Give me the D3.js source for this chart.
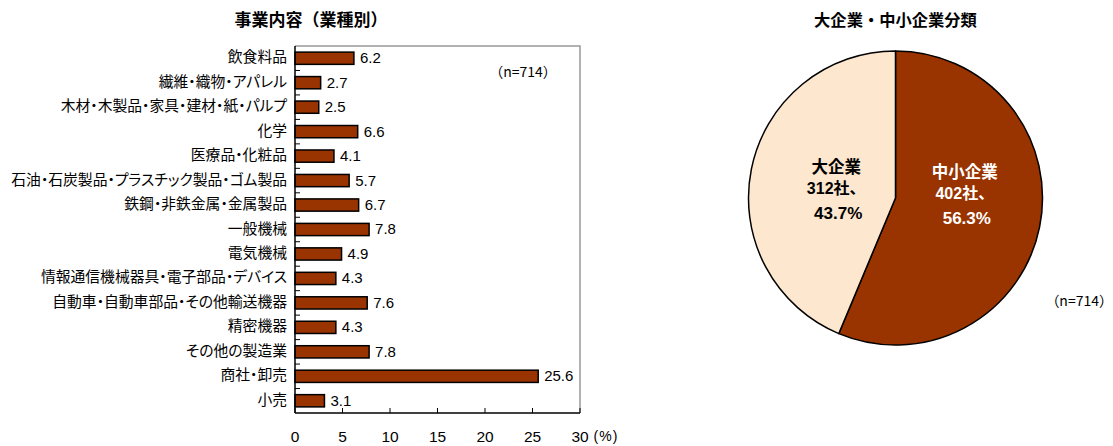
<!DOCTYPE html>
<html>
<head>
<meta charset="utf-8">
<script src="https://cdn.jsdelivr.net/npm/d3@7"></script>
<style>
  html, body { margin: 0; padding: 0; background: #fff; }
  svg { display: block; }
  text { font-family: "Liberation Sans", Arial, "Noto Sans CJK JP", sans-serif; fill: #000; }
  .jp { font-family: "Noto Sans CJK JP", sans-serif; font-feature-settings: "palt"; }
  .jpw { font-family: "Noto Sans CJK JP", sans-serif; }
</style>
</head>
<body>
<svg id="chart" width="1113" height="446"></svg>
<script>
// 業種別の構成比 (%)
const industries = [
  "飲食料品",
  "繊維・織物・アパレル",
  "木材・木製品・家具・建材・紙・パルプ",
  "化学",
  "医療品・化粧品",
  "石油・石炭製品・プラスチック製品・ゴム製品",
  "鉄鋼・非鉄金属・金属製品",
  "一般機械",
  "電気機械",
  "情報通信機械器具・電子部品・デバイス",
  "自動車・自動車部品・その他輸送機器",
  "精密機器",
  "その他の製造業",
  "商社・卸売",
  "小売"
];
const sharePct = [6.2, 2.7, 2.5, 6.6, 4.1, 5.7, 6.7, 7.8, 4.9, 4.3, 7.6, 4.3, 7.8, 25.6, 3.1];
const xTicks = [0, 5, 10, 15, 20, 25, 30];

// 企業規模別の社数
const sizeNames = ["中小企業", "大企業"];
const sizeCounts = [402, 312];
const sizePct = ["56.3%", "43.7%"];
const sampleLabel = "（n=714）";

const svg = d3.select("#chart");
const BROWN = "#993300";

// ---- 棒グラフ ----
const plot = { left: 295, right: 580, top: 46, bottom: 413 };
const x = d3.scaleLinear().domain([0, 30]).range([plot.left, plot.right]);
const y = d3.scaleBand().domain(industries).range([plot.top, plot.bottom])
  .paddingInner(0.5).paddingOuter(0.25);

svg.append("text").attr("x", 311).attr("y", 21)
  .attr("text-anchor", "middle").attr("dominant-baseline", "middle")
  .attr("class", "jpw").attr("font-size", 17).attr("font-weight", "bold")
  .text("事業内容（業種別）");

// 枠 (上・右は灰色)
svg.append("path")
  .attr("d", `M${plot.left},${plot.top}H${plot.right}V${plot.bottom}`)
  .attr("fill", "none").attr("stroke", "#999").attr("stroke-width", 1.5);

// バー
svg.append("g").selectAll("rect").data(industries).join("rect")
  .attr("x", x(0))
  .attr("y", d => y(d))
  .attr("width", (d, i) => x(sharePct[i]) - x(0))
  .attr("height", y.bandwidth())
  .attr("fill", BROWN).attr("stroke", "#000").attr("stroke-width", 1.5);

// 値ラベル
svg.append("g").selectAll("text").data(industries).join("text")
  .attr("x", (d, i) => x(sharePct[i]) + 6)
  .attr("y", d => y(d) + y.bandwidth() / 2 + 1)
  .attr("dominant-baseline", "middle")
  .attr("font-size", 15)
  .text((d, i) => sharePct[i].toFixed(1));

// 縦軸 (区切り目盛り)
const step = y.step();
const yAxis = svg.append("g");
yAxis.append("line").attr("x1", plot.left).attr("x2", plot.left)
  .attr("y1", plot.top).attr("y2", plot.bottom).attr("stroke", "#000").attr("stroke-width", 1.5);
yAxis.selectAll("line.tick").data(industries.slice(1)).join("line").attr("class", "tick")
  .attr("x1", plot.left).attr("x2", plot.left + 5)
  .attr("y1", d => y(d) - step * y.paddingInner() / 2)
  .attr("y2", d => y(d) - step * y.paddingInner() / 2)
  .attr("stroke", "#000").attr("stroke-width", 1);
yAxis.selectAll("text").data(industries).join("text")
  .attr("class", "jp")
  .attr("x", plot.left - 8)
  .attr("y", d => y(d) + y.bandwidth() / 2)
  .attr("text-anchor", "end").attr("dominant-baseline", "middle")
  .attr("font-size", 14.8)
  .text(d => d);

// 横軸
const xAxis = svg.append("g");
xAxis.append("line").attr("x1", plot.left).attr("x2", plot.right)
  .attr("y1", plot.bottom).attr("y2", plot.bottom).attr("stroke", "#000").attr("stroke-width", 1.5);
xAxis.selectAll("line.tick").data(xTicks).join("line").attr("class", "tick")
  .attr("x1", d => x(d)).attr("x2", d => x(d))
  .attr("y1", plot.bottom).attr("y2", plot.bottom - 5)
  .attr("stroke", "#000").attr("stroke-width", 1);
xAxis.selectAll("text").data(xTicks).join("text")
  .attr("x", d => x(d)).attr("y", 438)
  .attr("text-anchor", "middle").attr("dominant-baseline", "middle")
  .attr("font-size", 15.5)
  .text(d => d);
svg.append("text").attr("x", 606).attr("y", 437)
  .attr("text-anchor", "middle").attr("dominant-baseline", "middle")
  .attr("font-size", 14).attr("letter-spacing", 1).text("(%)");

svg.append("text").attr("class", "jpw").attr("x", 523).attr("y", 73)
  .attr("text-anchor", "middle").attr("dominant-baseline", "middle")
  .attr("font-size", 14).text(sampleLabel);

// ---- 円グラフ ----
const cx = 895.5, cy = 198, r = 147;

const defs = svg.append("defs");
const pat = defs.append("pattern").attr("id", "dots")
  .attr("width", 2).attr("height", 2).attr("patternUnits", "userSpaceOnUse");
pat.append("rect").attr("width", 2).attr("height", 2).attr("fill", "#fff6ea");
pat.append("rect").attr("width", 1).attr("height", 1).attr("fill", "#fad8b4");
pat.append("rect").attr("x", 1).attr("y", 1).attr("width", 1).attr("height", 1).attr("fill", "#fad8b4");

svg.append("text").attr("x", cx).attr("y", 22)
  .attr("text-anchor", "middle").attr("dominant-baseline", "middle")
  .attr("class", "jpw").attr("font-size", 16.3).attr("font-weight", "bold")
  .text("大企業・中小企業分類");

const pie = d3.pie().sort(null).value(d => d)(sizeCounts);
const arc = d3.arc().innerRadius(0).outerRadius(r);
const labelArc = d3.arc().innerRadius(0).outerRadius(r * 0.92);
const pieG = svg.append("g").attr("transform", `translate(${cx},${cy})`);
const fills = [BROWN, "url(#dots)"];
pieG.selectAll("path").data(pie).join("path")
  .attr("d", arc)
  .attr("fill", (d, i) => fills[i])
  .attr("stroke", "#000").attr("stroke-width", 1.5).attr("stroke-linejoin", "round");

const labelColors = ["#fff", "#000"];
const nudgeY = [-16, 5];
pie.forEach((d, i) => {
  const [lx, ly] = labelArc.centroid(d);
  const t = pieG.append("text")
    .attr("text-anchor", "middle").attr("font-weight", "bold")
    .style("fill", labelColors[i]);
  const bx = lx + (i === 0 ? 3 : 7), by = ly + nudgeY[i];
  t.append("tspan").attr("class", "jpw").attr("x", bx).attr("y", by - 17)
    .attr("font-size", 16.5).style("fill", labelColors[i]).text(sizeNames[i]);
  t.append("tspan").attr("x", bx).attr("y", by + 4)
    .attr("font-size", 16).style("fill", labelColors[i]).text(sizeCounts[i] + "社、");
  t.append("tspan").attr("x", bx + 2).attr("y", by + 29)
    .attr("font-size", 17).style("fill", labelColors[i]).text(sizePct[i]);
});

svg.append("text").attr("class", "jpw").attr("x", 1113).attr("y", 302)
  .attr("text-anchor", "end").attr("dominant-baseline", "middle")
  .attr("font-size", 14).text(sampleLabel);
</script>
</body>
</html>
